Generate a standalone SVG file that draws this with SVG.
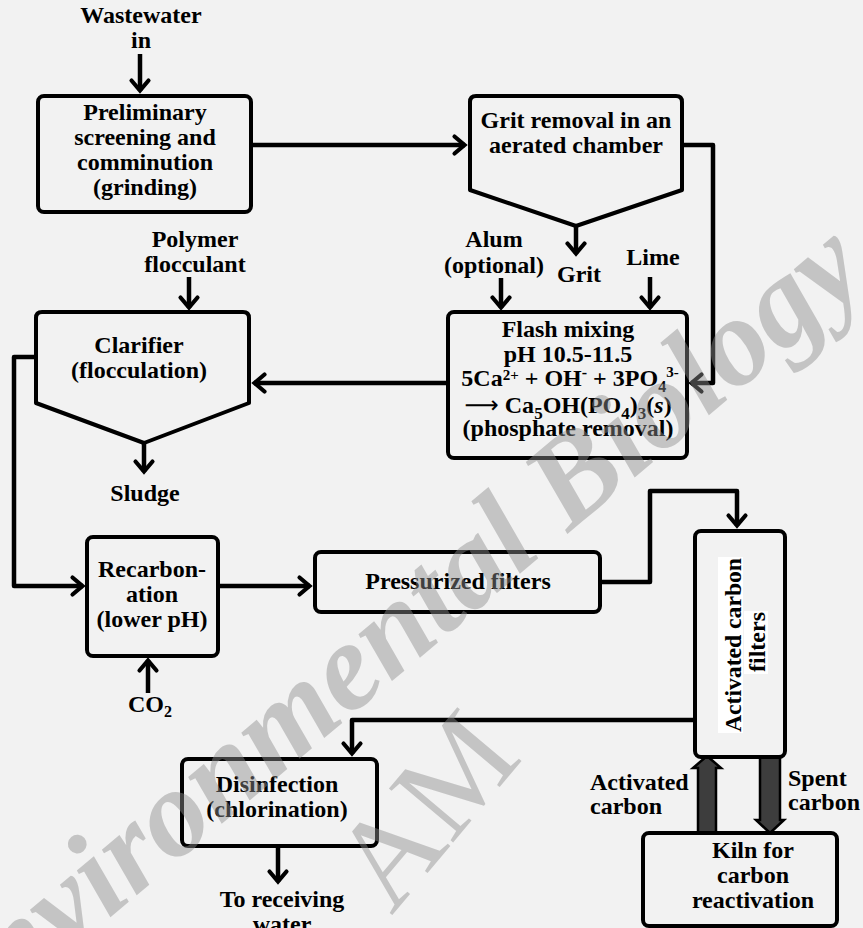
<svg xmlns="http://www.w3.org/2000/svg" width="863" height="928" viewBox="0 0 863 928">
<style>
.box{fill:#f2f2f2;stroke:#000;stroke-width:4;stroke-linejoin:round}
.t{font-family:"Liberation Serif","Times New Roman",serif;font-weight:bold;font-size:24px;fill:#000;text-anchor:middle}
.ts{text-anchor:start}
.c{fill:none;stroke:#000;stroke-width:4.5;stroke-linejoin:round;marker-end:url(#ah)}
.fat{fill:#3d3d3d;stroke:#000;stroke-width:2.5;stroke-linejoin:miter}
.wm{font-family:"Liberation Serif","Times New Roman",serif;fill:#8e8e8e;opacity:0.45}
</style>
<defs>
<marker id="ah" viewBox="0 0 14 20" refX="12" refY="10" markerWidth="14" markerHeight="20" orient="auto" markerUnits="userSpaceOnUse" overflow="visible">
<path d="M1.5,1.5 L11.5,10 L1.5,18.5" fill="none" stroke="#000" stroke-width="4.2" stroke-linecap="round" stroke-linejoin="miter"/>
</marker>
</defs>
<rect width="863" height="928" fill="#f2f2f2"/>

<g id="connectors">
<line class="c" x1="140" y1="54" x2="140" y2="91"/>
<line class="c" x1="251" y1="145" x2="465" y2="145"/>
<polyline class="c" points="682,145 713,145 713,383 691,383"/>
<line class="c" x1="576" y1="226" x2="576" y2="254"/>
<line class="c" x1="501" y1="278" x2="501" y2="308"/>
<line class="c" x1="650" y1="277" x2="650" y2="308"/>
<line class="c" x1="189" y1="277" x2="189" y2="308"/>
<line class="c" x1="448" y1="383" x2="254" y2="383"/>
<polyline class="c" points="36,357 14,357 14,586 83,586"/>
<line class="c" x1="144" y1="443" x2="144" y2="472"/>
<line class="c" x1="148" y1="693" x2="148" y2="660"/>
<line class="c" x1="218" y1="586" x2="310" y2="586"/>
<polyline class="c" points="600,582 650,582 650,491 737,491 737,526"/>
<polyline class="c" points="695,720 352,720 352,754"/>
<line class="c" x1="278" y1="846" x2="278" y2="882"/>
<polygon class="fat" points="698,833 698,768 693,768 707,756 721,768 716,768 716,833"/>
<polygon class="fat" points="760,757 780,757 780,820 784,820 770,833 756,820 760,820"/>
</g>

<g id="wastewater-in">
<text class="t" x="141" y="23">Wastewater</text>
<text class="t" x="141" y="48">in</text>
</g>

<g id="preliminary">
<rect class="box" x="38" y="96" width="213" height="116" rx="6"/>
<text class="t" x="145" y="120">Preliminary</text>
<text class="t" x="145" y="145">screening and</text>
<text class="t" x="145" y="170">comminution</text>
<text class="t" x="145" y="195">(grinding)</text>
</g>

<g id="grit-removal">
<path class="box" d="M476,96 H676 Q682,96 682,102 V190 L576,226 L470,190 V102 Q470,96 476,96 Z"/>
<text class="t" x="576" y="128">Grit removal in an</text>
<text class="t" x="576" y="153">aerated chamber</text>
</g>

<g id="grit">
<text class="t" x="579" y="282">Grit</text>
</g>

<g id="alum">
<text class="t" x="494" y="247">Alum</text>
<text class="t" x="494" y="273">(optional)</text>
</g>

<g id="lime">
<text class="t" x="653" y="265">Lime</text>
</g>

<g id="flash-mixing">
<rect class="box" x="448" y="312" width="239" height="146" rx="6"/>
<text class="t" x="568" y="337">Flash mixing</text>
<text class="t" x="568" y="362">pH 10.5-11.5</text>
<text class="t" x="570" y="386">5Ca<tspan font-size="15" dy="-6">2+</tspan><tspan dy="6"> + OH</tspan><tspan font-size="16" dy="-8">-</tspan><tspan dy="8"> + 3PO</tspan><tspan font-size="16" dy="6">4</tspan><tspan font-size="15" dy="-15">3-</tspan></text>
<text class="t" x="568" y="413"><tspan font-family="DejaVu Sans" font-weight="normal">⟶</tspan> Ca<tspan font-size="17" dy="6">5</tspan><tspan dy="-6">OH(PO</tspan><tspan font-size="17" dy="6">4</tspan><tspan dy="-6">)</tspan><tspan font-size="17" dy="6">3</tspan><tspan dy="-6">(</tspan><tspan font-style="italic">s</tspan>)</text>
<text class="t" x="568" y="436">(phosphate removal)</text>
</g>

<g id="polymer">
<text class="t" x="195" y="247">Polymer</text>
<text class="t" x="195" y="272">flocculant</text>
</g>

<g id="clarifier">
<path class="box" d="M42,312 H243 Q249,312 249,318 V403 L144,443 L36,403 V318 Q36,312 42,312 Z"/>
<text class="t" x="139" y="353">Clarifier</text>
<text class="t" x="139" y="378">(flocculation)</text>
</g>

<g id="sludge">
<text class="t" x="145" y="501">Sludge</text>
</g>

<g id="recarbonation">
<rect class="box" x="87" y="537" width="131" height="119" rx="6"/>
<text class="t" x="152" y="577">Recarbon-</text>
<text class="t" x="152" y="602">ation</text>
<text class="t" x="152" y="627">(lower pH)</text>
</g>

<g id="co2">
<text class="t ts" x="128" y="712">CO<tspan font-size="16" dy="5">2</tspan></text>
</g>

<g id="pressurized-filters">
<rect class="box" x="315" y="552" width="285" height="60" rx="6"/>
<text class="t" x="458" y="589">Pressurized filters</text>
</g>

<g id="activated-carbon-filters">
<rect class="box" x="695" y="531" width="90" height="226" rx="6"/>
<rect x="718" y="557" width="25" height="176" fill="#fff"/>
<rect x="744" y="611" width="24" height="63" fill="#fff"/>
<text class="t" transform="translate(741,645) rotate(-90)" textLength="174" lengthAdjust="spacingAndGlyphs">Activated carbon</text>
<text class="t" transform="translate(765,642) rotate(-90)">filters</text>
</g>

<g id="activated-carbon-label">
<text class="t ts" x="590" y="790">Activated</text>
<text class="t ts" x="590" y="814">carbon</text>
</g>

<g id="spent-carbon-label">
<text class="t ts" x="788" y="786">Spent</text>
<text class="t ts" x="788" y="810">carbon</text>
</g>

<g id="disinfection">
<rect class="box" x="182" y="759" width="195" height="87" rx="6"/>
<text class="t" x="277" y="792">Disinfection</text>
<text class="t" x="277" y="817">(chlorination)</text>
</g>

<g id="receiving-water">
<text class="t" x="282" y="907">To receiving</text>
<text class="t" x="282" y="932">water</text>
</g>

<g id="kiln">
<rect class="box" x="643" y="833" width="194" height="93" rx="6"/>
<text class="t" x="753" y="858">Kiln for</text>
<text class="t" x="753" y="883">carbon</text>
<text class="t" x="753" y="908">reactivation</text>
</g>

<g id="watermark">
<text class="wm" transform="translate(410,666) rotate(-40)" font-size="125" font-weight="bold" font-style="italic" text-anchor="middle">Environmental Biology</text>
<text class="wm" transform="translate(524,758) rotate(-50)" font-size="128" text-anchor="end">AM</text>
</g>
</svg>
